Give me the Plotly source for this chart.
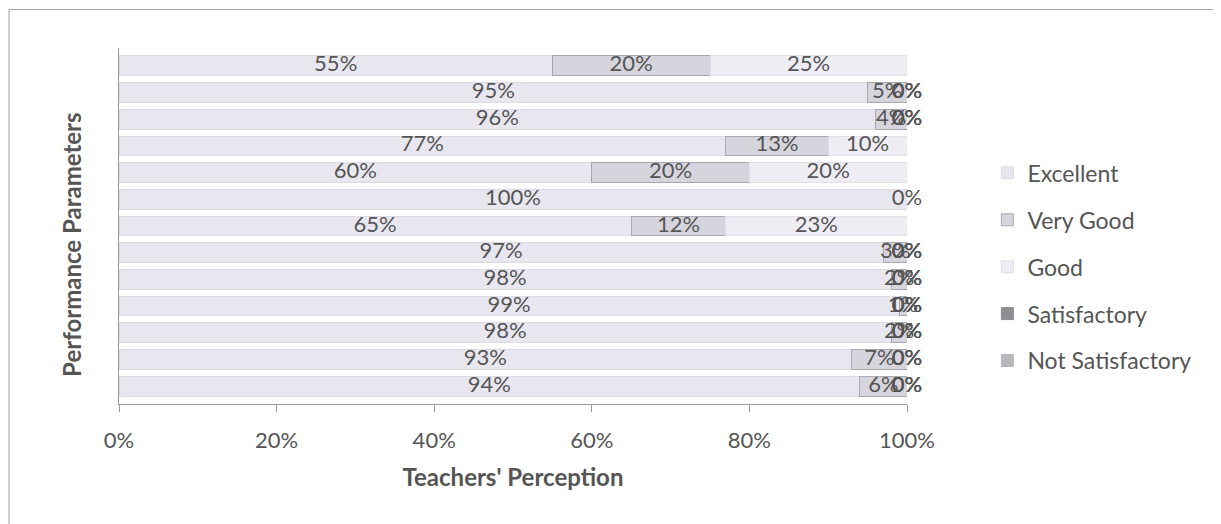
import plotly.graph_objects as go

categories = [f"P{i}" for i in range(1, 14)]
excellent = [55, 95, 96, 77, 60, 100, 65, 97, 98, 99, 98, 93, 94]
very_good = [20, 5, 4, 13, 20, 0, 12, 3, 2, 1, 2, 7, 6]
good = [25, 0, 0, 10, 20, None, 23, 0, 0, 0, 0, 0, 0]
satisfactory = [None, 0, 0, None, None, None, None, 0, 0, 0, 0, 0, 0]
not_satisfactory = [None, 0, 0, None, None, None, None, 0, 0, 0, 0, 0, 0]
tick_vals = [0, 20, 40, 60, 80, 100]
tick_text = ["0%", "20%", "40%", "60%", "80%", "100%"]

series = [
    ("Excellent", excellent, "#e8e7f0", "#dddce5"),
    ("Very Good", very_good, "#d6d5de", "#a8a8b0"),
    ("Good", good, "#eeedf4", "#e0dfe7"),
    ("Satisfactory", satisfactory, "#8e8e92", "#8e8e92"),
    ("Not Satisfactory", not_satisfactory, "#b8b8bc", "#b8b8bc"),
]

FONT = "Lato"
TXT = "#555555"

fig = go.Figure()
for i, (name, vals, col, lcol) in enumerate(series):
    fig.add_trace(go.Bar(
        y=categories, x=[v if v is not None else 0 for v in vals], name=name,
        orientation="h", marker=dict(color=col, line=dict(color=lcol, width=1)),
        legendgroup=name, hoverinfo="skip",
    ))

# data labels at segment midpoints
lx, ly, lt = [], [], []
cum = [0] * len(categories)
for name, vals, *_ in series:
    for j, v in enumerate(vals):
        if v is None:
            continue
        lx.append(cum[j] + v / 2)
        ly.append(categories[j])
        lt.append(f"{v}%")
        cum[j] += v
fig.add_trace(go.Scatter(
    x=lx, y=ly, text=lt, mode="text", textposition="middle center",
    textfont=dict(family=FONT, size=22, color=TXT), showlegend=False,
    hoverinfo="skip", cliponaxis=False,
))

fig.update_layout(
    barmode="stack", bargap=0.26,
    width=1221, height=524,
    margin=dict(l=111, r=322, t=40, b=128),
    paper_bgcolor="white", plot_bgcolor="white",
    font=dict(family=FONT, color=TXT, size=20),
    legend=dict(
        x=1.102, y=0.385, xanchor="left", yanchor="middle",
        traceorder="grouped", tracegroupgap=14,
        font=dict(family=FONT, size=23, color=TXT),
        itemwidth=30,
    ),
    showlegend=True,
)
fig.update_xaxes(
    range=[0, 100], tickvals=tick_vals, ticktext=tick_text,
    showgrid=False, zeroline=False, showline=True, linecolor="#9a9a9a",
    ticks="outside", ticklen=7, tickcolor="#9a9a9a",
    ticklabelstandoff=10,
    tickfont=dict(family=FONT, size=22, color=TXT),
    automargin=False,
    title=dict(text="<b>Teachers' Perception</b>", font=dict(family=FONT, size=24, color=TXT), standoff=16),
)
fig.update_yaxes(
    categoryorder="array", categoryarray=categories, autorange="reversed",
    showticklabels=False, showgrid=False, zeroline=False,
    showline=True, linecolor="#9a9a9a", linewidth=1,
    automargin=False,
)
fig.add_annotation(
    text="<b>Performance Parameters</b>", textangle=-90,
    xref="paper", yref="paper", x=-0.0596, y=0.447,
    xanchor="center", yanchor="middle", showarrow=False,
    font=dict(family=FONT, size=24, color=TXT),
)
# chart frame
fig.add_shape(type="rect", xref="paper", yref="paper",
              x0=-0.1396, x1=1.397, y0=-0.4, y1=1.108,
              line=dict(color="#a0a0a0", width=1), layer="below")

fig.write_html("out.html")
